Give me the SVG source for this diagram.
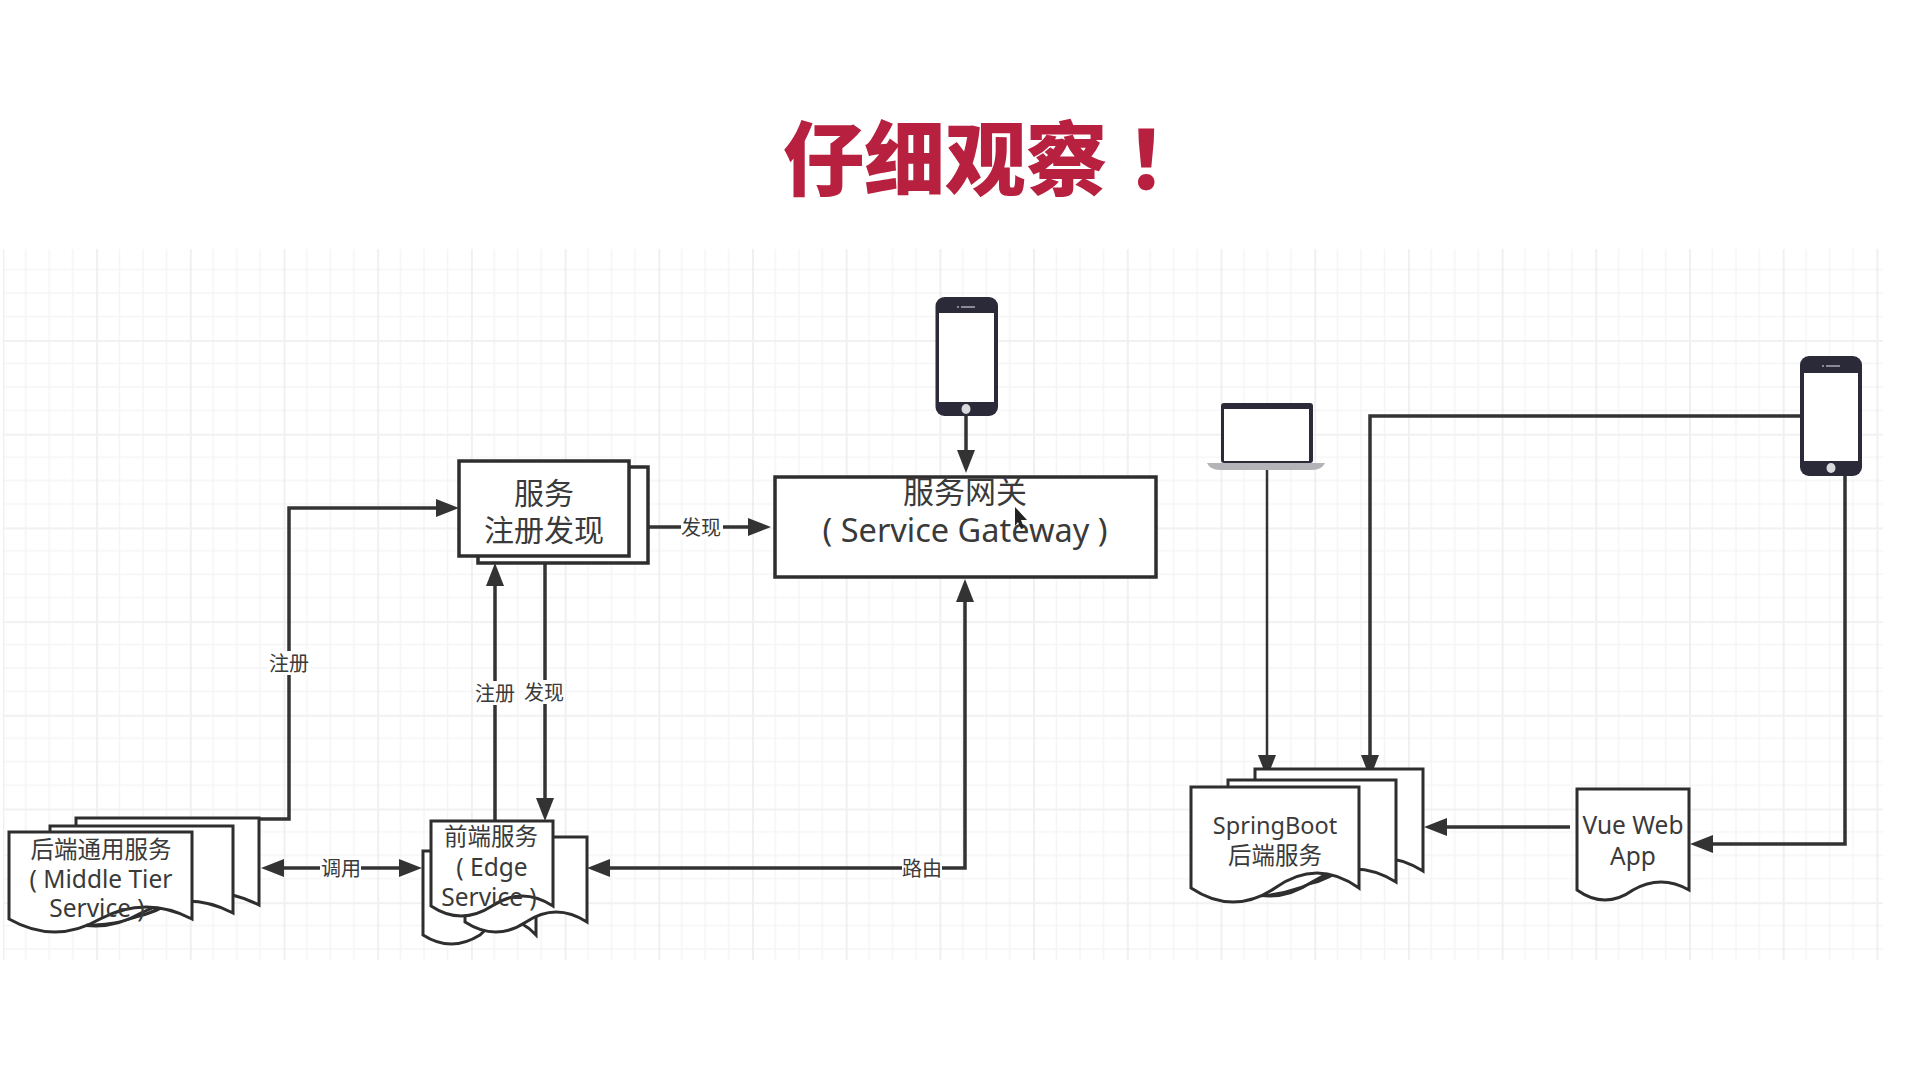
<svg xmlns="http://www.w3.org/2000/svg" width="1920" height="1080" viewBox="0 0 1920 1080">
<style>
text{font-family:"Noto Sans","Noto Sans CJK SC",sans-serif;fill:#3a3a3a;text-anchor:middle;dominant-baseline:central}
.cjk{font-family:"Noto Sans CJK SC","Noto Sans",sans-serif}
.doc{fill:#fff;stroke:#2e2e2e;stroke-width:3;stroke-linejoin:miter}
.docline{fill:none;stroke:#2e2e2e;stroke-width:2.5}
.box{fill:#fff;stroke:#2e2e2e;stroke-width:3.5}
.t20{font-size:20px}.t23{font-size:23.5px}.t24{font-size:24.500px}.t30{font-size:30px}.t31{font-size:31px}.t32{font-size:32.500px}
.lab{fill:#fff}
.conn{fill:none;stroke:#333;stroke-width:3.5;marker-end:url(#arrow)}
.dev{fill:#2a2a38}.scr{fill:#fff}.btn{fill:#d9d9de}.spk{fill:#8a8a94}
</style>
<defs>
<marker id="arrow" markerUnits="userSpaceOnUse" markerWidth="28" markerHeight="22" refX="2" refY="10" orient="auto-start-reverse"><path d="M0 1L23 10L0 19Z" fill="#333"/></marker>
<pattern id="grid" patternUnits="userSpaceOnUse" x="2.4" y="246.3" width="93.7" height="93.7">
<path d="M23.4 0V93.7M46.9 0V93.7M70.3 0V93.7M0 23.4H93.7M0 46.9H93.7M0 70.3H93.7" stroke="#f5f5f6" stroke-width="1.5" fill="none"/>
<path d="M1 0V93.7" stroke="#ebebed" stroke-width="1.5" fill="none"/>
<path d="M0 1H93.7" stroke="#f1f1f2" stroke-width="2" fill="none"/>
</pattern>
</defs>
<rect width="1920" height="1080" fill="#fff"/>
<rect x="3" y="249" width="1880" height="711" fill="url(#grid)"/>
<text id="title" class="cjk" x="783" y="153" style="font-size:81px;font-weight:900;fill:#b8203f;text-anchor:start">仔细观察<tspan dx="19">！</tspan></text>
<g id="connectors">
<path class="conn" d="M282 868H401" style="marker-start:url(#arrow)"/>
<path class="conn" d="M608 868H965V600" style="marker-start:url(#arrow)"/>
<path class="conn" d="M259 819H289V508H438"/>
<path class="conn" d="M495 821V584"/>
<path class="conn" d="M545 563V800"/>
<path class="conn" d="M648 527H750"/>
<path class="conn" d="M966 416V452"/>
<path class="conn" d="M1267 470V757" style="stroke-width:2.500"/>
<path class="conn" d="M1800 416H1370V757"/>
<path class="conn" d="M1845 476V844H1711"/>
<path class="conn" d="M1570 827H1445"/>
</g>
<g id="middle-tier">
<path class="doc" d="M76 818H259V905Q213 881 167 905Q122 931 76 905Z"/>
<path class="doc" d="M50 826H233V913Q187 889 141 913Q96 939 50 913Z"/>
<path class="doc" d="M9 832H192V919Q146 895 100 919Q55 945 9 919Z"/>
<path class="docline" d="M86 925Q125 925 159 908"/>
<text class="cjk t23" x="101" y="848">后端通用服务</text>
<text class="t24" x="101" y="878">( Middle Tier</text>
<text class="t24" x="97" y="907">Service )</text>
</g>
<g id="edge-service">
<path class="doc" d="M423 851H536V935Q508 905 480 935Q451 953 423 935Z"/>
<path class="doc" d="M465 837H587V922Q556 902 526 922Q496 942 465 922Z"/>
<path class="doc" d="M431 821H553V906Q522 886 492 906Q461 926 431 906Z"/>
<text class="cjk t23" x="491" y="835">前端服务</text>
<text class="t24" x="492" y="866">( Edge</text>
<text class="t24" x="489" y="896">Service )</text>
</g>
<g id="registry">
<rect class="box" x="478" y="467" width="170" height="96"/>
<rect class="box" x="459" y="461" width="170" height="95"/>
<text class="cjk t30" x="544" y="491">服务</text>
<text class="cjk t30" x="544" y="528">注册发现</text>
</g>
<g id="gateway">
<rect class="box" x="775" y="477" width="381" height="100"/>
<text class="cjk t31" x="965" y="489">服务网关</text>
<text class="t32" x="965" y="529">( Service Gateway )</text>
<path d="M1015 507L1027 520L1021 520L1024 528L1021 529L1018 522L1015 526Z" fill="#222"/>
</g>
<g id="phone-1">
<rect class="dev" x="935.500" y="297" width="62.500" height="119" rx="9"/>
<rect class="scr" x="939" y="313" width="55" height="89"/>
<rect class="spk" x="957" y="306" width="2" height="2"/>
<rect class="spk" x="961" y="306" width="14" height="2"/>
<ellipse class="btn" cx="966" cy="409" rx="4.500" ry="5"/>
</g>
<g id="laptop">
<rect class="dev" x="1221" y="403" width="92" height="60" rx="3"/>
<rect class="scr" x="1224" y="409" width="85" height="52"/>
<path d="M1207 463H1325Q1322 470 1312 470H1220Q1210 470 1207 463Z" fill="#b4b4b8"/>
</g>
<g id="phone-2">
<rect class="dev" x="1800" y="356" width="62" height="120" rx="9"/>
<rect class="scr" x="1804" y="373" width="54" height="88"/>
<rect class="spk" x="1822" y="365" width="2" height="2"/>
<rect class="spk" x="1826" y="365" width="14" height="2"/>
<ellipse class="btn" cx="1831" cy="468" rx="4.500" ry="5"/>
</g>
<g id="springboot">
<path class="doc" d="M1255 769H1423V871Q1381 845 1339 871Q1297 899 1255 871Z"/>
<path class="doc" d="M1228 780H1396V882Q1354 856 1312 882Q1270 910 1228 882Z"/>
<path class="doc" d="M1191 787H1359V888Q1317 858 1275 888Q1233 916 1191 888Z"/>
<path class="docline" d="M1261 896Q1298 892 1328 875"/>
<text class="t23" x="1275" y="825">SpringBoot</text>
<text class="cjk t23" x="1275" y="854">后端服务</text>
</g>
<g id="vue-app">
<path class="doc" d="M1577 789H1689V890Q1661 874 1633 890Q1605 910 1577 890Z"/>
<text class="t24" x="1633" y="824">Vue Web</text>
<text class="t24" x="1633" y="855">App</text>
</g>
<g id="connector-labels">
<rect class="lab" x="320" y="856" width="41" height="24"/><text class="cjk t20" x="341" y="867">调用</text>
<rect class="lab" x="902" y="856" width="40" height="24"/><text class="cjk t20" x="922" y="867">路由</text>
<rect class="lab" x="268" y="651" width="42" height="24"/><text class="cjk t20" x="289" y="662">注册</text>
<rect class="lab" x="474" y="681" width="42" height="24"/><text class="cjk t20" x="495" y="692">注册</text>
<rect class="lab" x="523" y="680" width="42" height="24"/><text class="cjk t20" x="544" y="691">发现</text>
<rect class="lab" x="681" y="515" width="42" height="24"/><text class="cjk t20" x="701" y="526">发现</text>
</g>
</svg>
